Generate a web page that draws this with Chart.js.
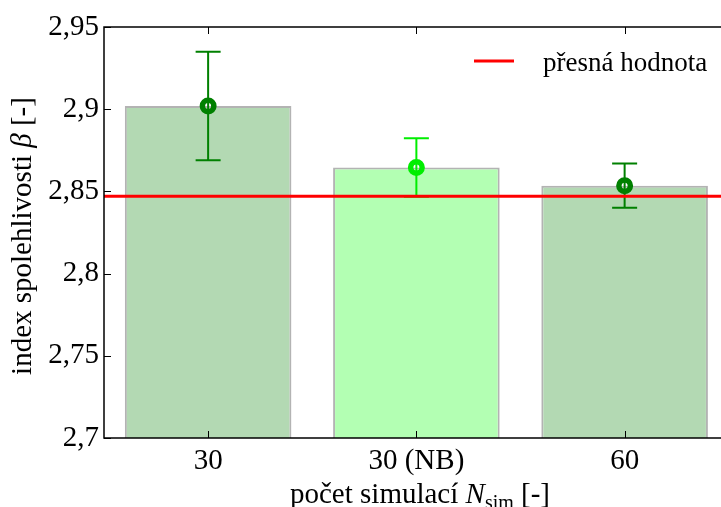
<!DOCTYPE html>
<html>
<head>
<meta charset="utf-8">
<script src="https://cdn.jsdelivr.net/npm/chart.js@4.4.1/dist/chart.umd.min.js"></script>
<style>
  html, body { margin: 0; padding: 0; background: #fff; overflow: hidden; }
  #wrap { width: 721px; height: 507px; overflow: hidden; }
</style>
</head>
<body>
<div id="wrap"><canvas id="betaChart" width="740" height="507"></canvas></div>
<script>
var categories = ['30', '30 (NB)', '60'];
var betaMean = [2.902, 2.8645, 2.8535];
var betaErr = [0.033, 0.0178, 0.0135];
var exactBeta = 2.847;
var yTicks = [2.7, 2.75, 2.8, 2.85, 2.9, 2.95];
var yTickLabels = ['2,7', '2,75', '2,8', '2,85', '2,9', '2,95'];

var barFill = ['#b3d9b3', '#b3ffb3', '#b3d9b3'];
var markColor = ['#008000', '#00ee00', '#008000'];
var serif = '"Liberation Serif", "Times New Roman", serif';

function drawParts(ctx, parts, x, y) {
    var w = 0;
    parts.forEach(function (p) { ctx.font = p.font; w += ctx.measureText(p.text).width; });
    var cx = x - w / 2;
    parts.forEach(function (p) {
        ctx.font = p.font;
        ctx.fillText(p.text, cx, y + (p.dy || 0));
        cx += ctx.measureText(p.text).width;
    });
}

var decor = {
    id: 'decor',
    afterDatasetDraw: function (chart, args) {
        if (args.index !== 0) return;
        // error bars on top of the bars, under the markers
        var ctx = chart.ctx, xs = chart.scales.x, ys = chart.scales.y;
        ctx.save();
        ctx.lineWidth = 2;
        betaMean.forEach(function (m, i) {
            var x = xs.getPixelForValue(i);
            var yt = ys.getPixelForValue(m + betaErr[i]);
            var yb = ys.getPixelForValue(m - betaErr[i]);
            ctx.strokeStyle = markColor[i];
            ctx.beginPath();
            ctx.moveTo(x, yt); ctx.lineTo(x, yb);
            ctx.moveTo(x - 12.5, yt); ctx.lineTo(x + 12.5, yt);
            ctx.moveTo(x - 12.5, yb); ctx.lineTo(x + 12.5, yb);
            ctx.stroke();
        });
        ctx.restore();
    },
    afterDraw: function (chart) {
        var ctx = chart.ctx, a = chart.chartArea, xs = chart.scales.x, ys = chart.scales.y;
        ctx.save();
        // frame
        ctx.strokeStyle = '#000';
        ctx.lineWidth = 1.5;
        ctx.beginPath();
        ctx.moveTo(a.right, a.top); ctx.lineTo(a.left, a.top);
        ctx.lineTo(a.left, a.bottom); ctx.lineTo(a.right, a.bottom);
        ctx.stroke();
        // ticks pointing inwards
        ctx.lineWidth = 1;
        ctx.beginPath();
        yTicks.forEach(function (v) {
            var y = Math.round(ys.getPixelForValue(v)) + 0.5;
            ctx.moveTo(a.left, y); ctx.lineTo(a.left + 7, y);
        });
        categories.forEach(function (c, i) {
            var x = Math.round(xs.getPixelForValue(i)) + 0.5;
            ctx.moveTo(x, a.bottom); ctx.lineTo(x, a.bottom - 7);
            ctx.moveTo(x, a.top); ctx.lineTo(x, a.top + 7);
        });
        ctx.stroke();

        // legend
        var ds = chart.data.datasets[2];
        ctx.strokeStyle = ds.borderColor;
        ctx.lineWidth = 3;
        ctx.beginPath();
        ctx.moveTo(474, 61); ctx.lineTo(514, 61);
        ctx.stroke();
        ctx.fillStyle = '#000';
        ctx.textBaseline = 'alphabetic';
        ctx.textAlign = 'left';
        ctx.font = '27px ' + serif;
        ctx.fillText(ds.label, 543, 71);

        // axis titles
        drawParts(ctx, [
            { text: 'počet simulací ', font: '29px ' + serif },
            { text: 'N', font: 'italic 29px ' + serif },
            { text: 'sim', font: '20px ' + serif, dy: 6 },
            { text: ' [-]', font: '29px ' + serif }
        ], 420, 503);
        ctx.translate(31, 236);
        ctx.rotate(-Math.PI / 2);
        drawParts(ctx, [
            { text: 'index spolehlivosti ', font: '29px ' + serif },
            { text: 'β', font: 'italic 29px ' + serif },
            { text: ' [-]', font: '29px ' + serif }
        ], 0, 0);
        ctx.restore();
    }
};

var ctx = document.getElementById('betaChart').getContext('2d');
var betaChart = new Chart(ctx, {
    type: 'bar',
    data: {
        labels: categories,
        datasets: [{
            label: 'index',
            data: betaMean,
            backgroundColor: barFill,
            borderColor: '#b3b3b3',
            borderWidth: 2,
            grouped: false,
            barPercentage: 0.8,
            categoryPercentage: 1,
            order: 3
        }, {
            type: 'line',
            label: 'mean',
            data: betaMean,
            showLine: false,
            pointRadius: 5.75,
            pointBorderWidth: 5.5,
            pointBackgroundColor: 'rgba(0,0,0,0)',
            pointBorderColor: markColor,
            order: 2
        }, {
            type: 'line',
            label: 'přesná hodnota',
            xAxisID: 'xl',
            data: [{ x: 0, y: exactBeta }, { x: 1, y: exactBeta }],
            borderColor: '#ff0000',
            borderWidth: 3,
            pointRadius: 0,
            order: 1
        }]
    },
    options: {
        responsive: false,
        animation: false,
        layout: { padding: { left: 0, top: 27, right: 10, bottom: 0 } },
        plugins: { legend: { display: false }, tooltip: { enabled: false } },
        scales: {
            x: {
                type: 'category',
                offset: true,
                grid: { display: false },
                border: { display: false },
                ticks: { color: '#000', padding: -2, font: { family: serif, size: 29 } },
                afterFit: function (s) { s.height = 69; }
            },
            xl: {
                type: 'linear',
                display: false,
                offset: false,
                min: 0,
                max: 1
            },
            y: {
                min: 2.7,
                max: 2.95,
                grid: { display: false, drawTicks: false },
                border: { display: false },
                afterBuildTicks: function (s) {
                    s.ticks = yTicks.map(function (v) { return { value: v }; });
                },
                ticks: {
                    color: '#000',
                    padding: 5,
                    font: { family: serif, size: 29 },
                    callback: function (v) { return yTickLabels[yTicks.indexOf(v)]; }
                },
                afterFit: function (s) { s.width = 104; }
            }
        }
    },
    plugins: [decor]
});
</script>
</body>
</html>
